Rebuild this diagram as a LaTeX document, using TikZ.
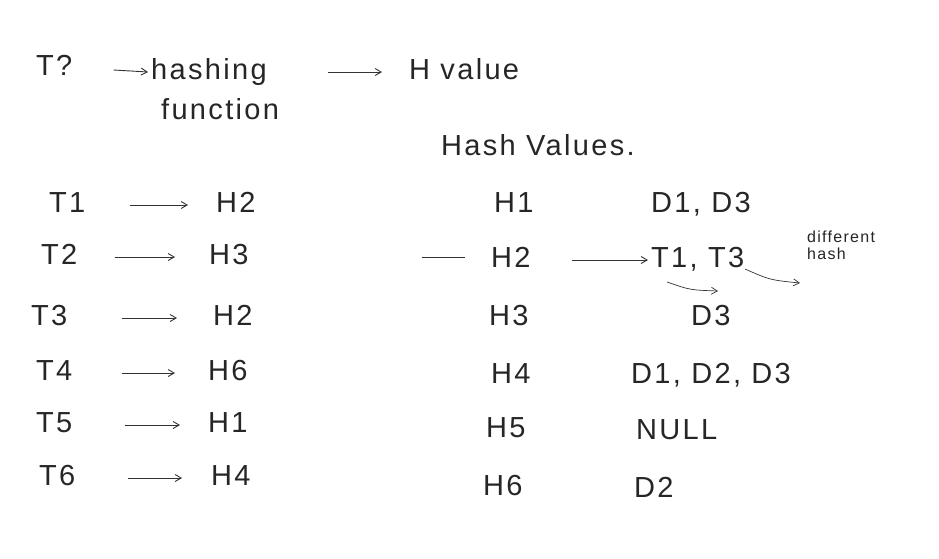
\documentclass[tikz,border=0pt]{standalone}
\usepackage{fontspec}
\setmainfont{Liberation Sans}[LetterSpace=8]
\usetikzlibrary{arrows.meta}
\begin{document}
\begin{tikzpicture}[x=1pt,y=-1pt,
  txt/.style={inner sep=1pt,anchor=west,text=black!85,text height=21pt,text depth=6pt,font=\fontsize{29}{31}\selectfont},
  small/.style={inner sep=1pt,anchor=west,text=black!85,font=\fontsize{16}{17}\selectfont,align=left},
  arr/.style={draw=black!80,line width=0.9pt,-{Straight Barb[length=6pt,width=7pt]}},
  ln/.style={draw=black!80,line width=0.9pt}]
\useasboundingbox[fill=white] (0,0) rectangle (939,558);
% top line
\node[txt] (tq) at (35,68) {T?};
\node[txt] (hf) at (150,72) {hashing};
\node[txt] (hf2) at (160,112) {function};
\node[txt] (hv) at (408,72) {H value};
\draw[arr] ([xshift=40pt,yshift=-2pt]tq.east) -- ([xshift=-2pt]hf.west);
\draw[arr] ([xshift=60pt]hf.east) -- ([xshift=-26pt]hv.west);
\node[txt] (hvs) at (440,148) {Hash Values.};
% left column
\node[txt] (t1) at (48,205) {T1}; \node[txt] (l1) at (215,205) {H2};
\node[txt] (t2) at (40,257) {T2}; \node[txt] (l2) at (208,257) {H3};
\node[txt] (t3) at (30,318) {T3}; \node[txt] (l3) at (212,318) {H2};
\node[txt] (t4) at (35,373) {T4}; \node[txt] (l4) at (207,373) {H6};
\node[txt] (t5) at (35,425) {T5}; \node[txt] (l5) at (207,425) {H1};
\node[txt] (t6) at (38,478) {T6}; \node[txt] (l6) at (210,478) {H4};
\foreach \i/\a/\b in {1/43/-27,2/36/-33,3/53/-35,4/48/-32,5/51/-27,6/51/-28}
  {\draw[arr] ([xshift=\a pt]t\i.east) -- ([xshift=\b pt]l\i.west);}
% right column
\node[txt] (h1) at (493,205) {H1};
\node[txt] (h2) at (490,260) {H2};
\node[txt] (h3) at (488,318) {H3};
\node[txt] (h4) at (490,376) {H4};
\node[txt] (h5) at (485,430) {H5};
\node[txt] (h6) at (482,488) {H6};
\coordinate (lstart) at (422,257);
\draw[ln] (lstart) -- (465,257);
\node[txt] (d1) at (650,205) {D1, D3};
\node[txt] (d2) at (650,260) {T1, T3};
\node[txt] (d3) at (690,318) {D3};
\node[txt] (d4) at (630,376) {D1, D2, D3};
\node[txt] (d5) at (635,432) {NULL};
\node[txt] (d6) at (633,490) {D2};
\draw[arr] ([xshift=40pt]h2.east) -- ([xshift=-2pt]d2.west);
\node[small] (dh) at (806,245) {different\\hash};
\coordinate (c1) at (718,291);
\coordinate (c2) at (800,283);
\draw[arr,line width=0.7pt] (667,282) .. controls (690,290) .. (c1);
\draw[arr,line width=0.7pt] (745,269) .. controls (770,280) .. (c2);
\end{tikzpicture}
\end{document}
